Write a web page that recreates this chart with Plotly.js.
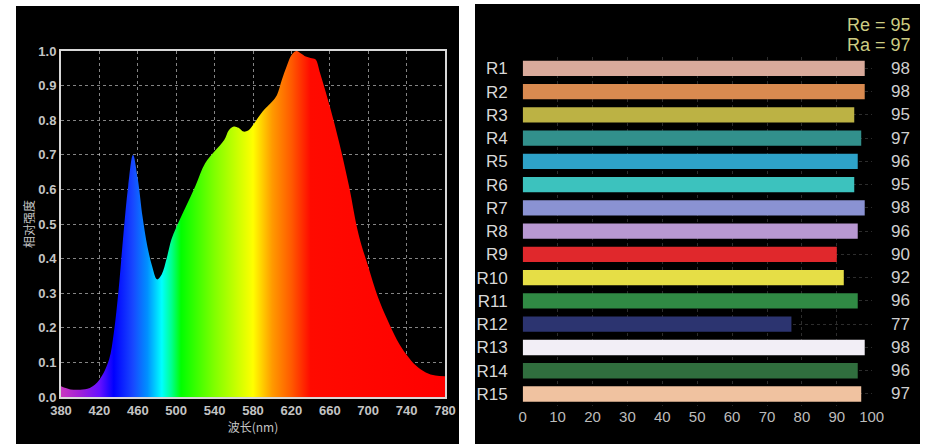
<!DOCTYPE html>
<html>
<head>
<meta charset="utf-8">
<script src="https://cdn.plot.ly/plotly-3.0.1.min.js"></script>
<style>html,body{margin:0;padding:0;background:#fff;}#chart{width:926px;height:444px;}</style>
</head>
<body>
<div id="chart"></div>
<script>
// ---- Spectrum data (relative intensity vs wavelength, nm) ----
const wavelengths = [380,390,400,410,420,430,435,440,445,450,455,460,465,470,475,480,485,490,495,500,510,520,530,540,550,555,560,565,570,575,580,590,600,605,610,615,620,625,630,635,640,645,650,660,670,680,690,700,710,720,730,740,750,760,770,780];
const intensity   = [0.031,0.022,0.021,0.026,0.05,0.108,0.185,0.31,0.47,0.61,0.70,0.63,0.52,0.435,0.377,0.34,0.355,0.40,0.455,0.49,0.55,0.61,0.675,0.71,0.743,0.772,0.782,0.778,0.767,0.77,0.786,0.825,0.854,0.873,0.916,0.955,0.988,1.0,0.993,0.984,0.98,0.976,0.935,0.84,0.733,0.61,0.47,0.377,0.29,0.223,0.165,0.122,0.09,0.071,0.062,0.06];
const spectrumTicks = [380,420,460,500,540,580,620,660,700,740,780];
const intensityTicks = [0.0,0.1,0.2,0.3,0.4,0.5,0.6,0.7,0.8,0.9,1.0];

// ---- Colour rendering indices ----
const criNames  = ['R1','R2','R3','R4','R5','R6','R7','R8','R9','R10','R11','R12','R13','R14','R15'];
const criValues = [98,98,95,97,96,95,98,96,90,92,96,77,98,96,97];
const criColors = ['#d9aa9b','#d98a50','#bcb244','#32908c','#2ea2c8','#3cc2be','#8a92d2','#b898d2','#e0282c','#e6de46','#308a44','#2c3470','#f2eef6','#306e3e','#f0c2a0'];
const Re = 95, Ra = 97;
const criTicks = [0,10,20,30,40,50,60,70,80,90,100];

const W = 926, H = 444;
const px = v => v / W, py = v => 1 - v / H;

const spectrumScale = [
  [0.00,'#c838c0'],[0.05,'#a020d8'],[0.10,'#6810ff'],[0.1375,'#0000ff'],
  [0.1875,'#1848ff'],[0.225,'#0090ff'],[0.2625,'#00ffff'],[0.2875,'#00ff90'],
  [0.3125,'#00ff00'],[0.40,'#80ff00'],[0.50,'#ffff00'],[0.55,'#ff9a00'],
  [0.60,'#ff5a00'],[0.65,'#ff0a00'],[1.00,'#ff0000']
];

const tickFont = {family:'Liberation Sans, Arial, sans-serif', size:13, color:'#c4c4c4', weight:'bold'};

const traces = [
  {
    type:'scatter', mode:'lines', x:wavelengths, y:intensity,
    xaxis:'x', yaxis:'y', fill:'tozeroy',
    line:{width:0, shape:'spline', color:'rgba(0,0,0,0)'},
    fillgradient:{type:'horizontal', colorscale:spectrumScale, start:380, stop:780},
    hoverinfo:'skip', showlegend:false
  },
  {
    type:'bar', orientation:'h', x:criValues, y:criNames,
    xaxis:'x2', yaxis:'y2', width:0.66,
    marker:{color:criColors, line:{width:0}},
    hoverinfo:'skip', showlegend:false
  }
];

const annotations = criNames.map((n,i)=>({
  xref:'paper', yref:'y2', x:px(912), y:n, xanchor:'right', yanchor:'middle',
  text:String(criValues[i]), showarrow:false,
  font:{family:'Liberation Sans, Arial, sans-serif', size:17, color:'#cfcfcf'}
}));
annotations.push(
  {xref:'paper', yref:'paper', x:px(913), y:py(25), xanchor:'right', yanchor:'middle',
   text:'Re = '+Re, showarrow:false, font:{family:'Liberation Sans, Arial, sans-serif', size:18, color:'#cdcc82'}},
  {xref:'paper', yref:'paper', x:px(913), y:py(45), xanchor:'right', yanchor:'middle',
   text:'Ra = '+Ra, showarrow:false, font:{family:'Liberation Sans, Arial, sans-serif', size:18, color:'#cdcc82'}}
);

const layout = {
  width:W, height:H, margin:{l:0,r:0,t:0,b:0},
  paper_bgcolor:'#ffffff', plot_bgcolor:'#000000',
  showlegend:false,
  shapes:[
    {type:'rect', xref:'paper', yref:'paper', x0:px(16), x1:px(459), y0:py(444), y1:py(6), fillcolor:'#000', line:{width:0}, layer:'below'},
    {type:'rect', xref:'paper', yref:'paper', x0:px(475), x1:px(920), y0:py(444), y1:py(4), fillcolor:'#000', line:{width:0}, layer:'below'}
  ],
  xaxis:{
    domain:[px(61), px(445)], range:[380,780], anchor:'y',
    tickvals:spectrumTicks, ticks:'', tickfont:tickFont,
    showgrid:true, gridcolor:'rgba(220,220,220,0.6)', griddash:'dot', gridwidth:1,
    showline:true, linecolor:'#d8d8d8', linewidth:2, mirror:true, zeroline:false,
    title:{text:'波长(nm)', font:{family:'Noto Sans CJK SC, sans-serif', size:12, color:'#c4c4c4'}, standoff:0}
  },
  yaxis:{
    domain:[py(397), py(51)], range:[0,1], anchor:'x',
    tickvals:intensityTicks, ticktext:intensityTicks.map(v=>v.toFixed(1)), ticks:'', tickfont:tickFont,
    showgrid:true, gridcolor:'rgba(220,220,220,0.6)', griddash:'dot', gridwidth:1,
    showline:true, linecolor:'#d8d8d8', linewidth:2, mirror:true, zeroline:false,
    title:{text:'相对强度', font:{family:'Noto Sans CJK SC, sans-serif', size:12, color:'#c4c4c4'}, standoff:1}
  },
  xaxis2:{
    domain:[px(522.7), px(871.7)], range:[0,100], anchor:'y2',
    tickvals:criTicks, ticks:'', tickfont:{family:'Liberation Sans, Arial, sans-serif', size:15, color:'#bcbcbc'},
    showgrid:true, gridcolor:'rgba(180,180,180,0.25)', griddash:'dot',
    showline:false, zeroline:false
  },
  yaxis2:{
    domain:[py(405.6), py(56.7)], range:[14.5,-0.5], anchor:'x2', type:'category',
    ticks:'', ticklabelstandoff:14,
    tickfont:{family:'Liberation Sans, Arial, sans-serif', size:17, color:'#d8d8d8'},
    showgrid:true, gridcolor:'rgba(180,180,180,0.25)', griddash:'dot',
    showline:false, zeroline:false
  },
  annotations:annotations
};

Plotly.newPlot('chart', traces, layout, {staticPlot:true, displayModeBar:false});
</script>
</body>
</html>
